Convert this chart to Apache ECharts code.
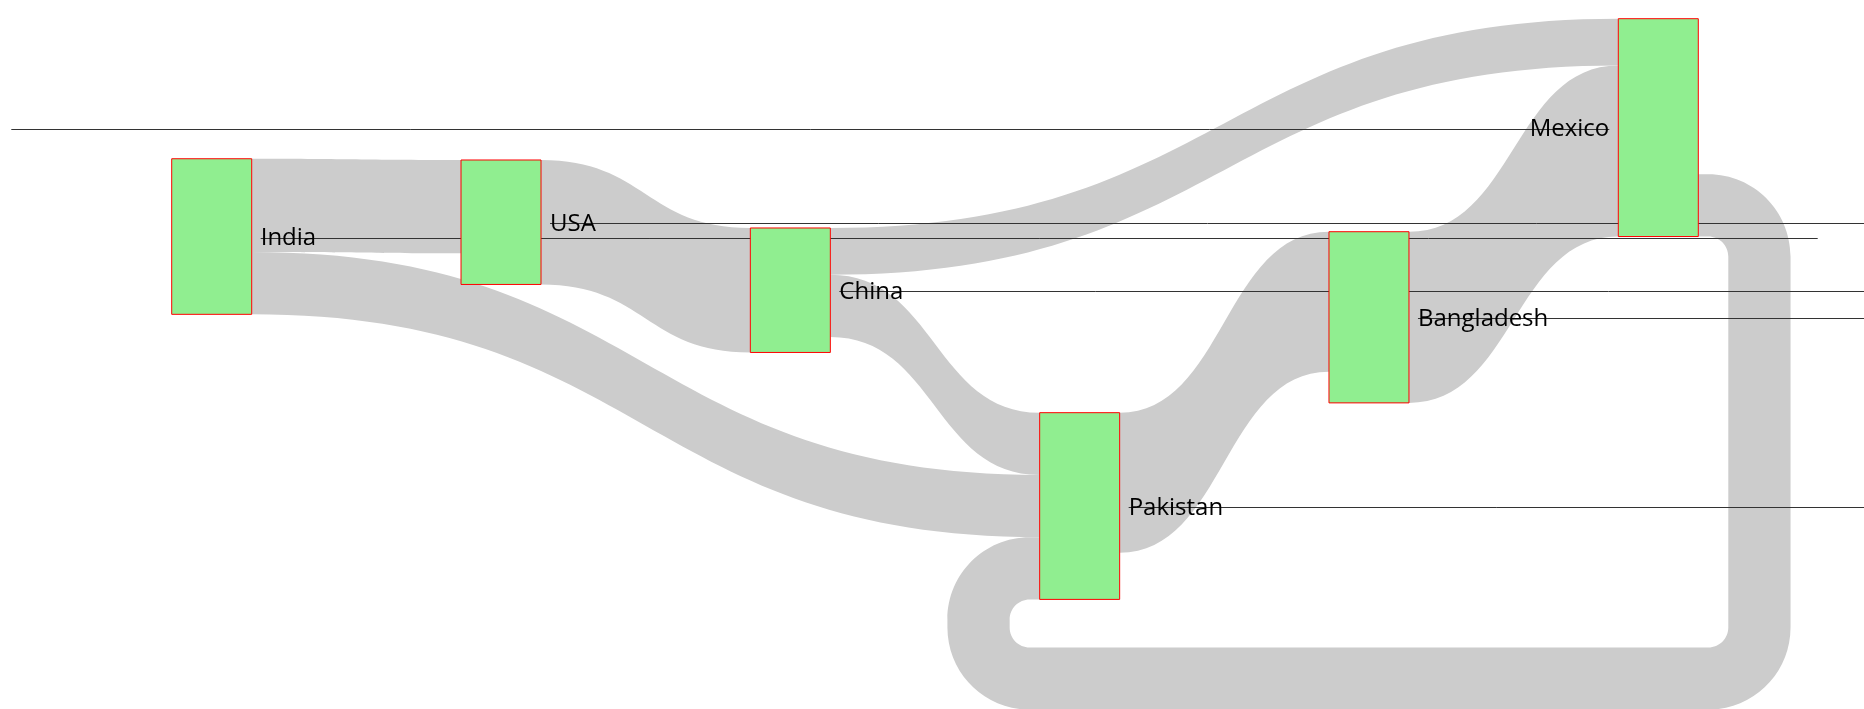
<!DOCTYPE html>
<html>
<head>
<meta charset="utf-8">
<style>
  html, body { margin: 0; padding: 0; background: #fff; }
  #main { width: 1864px; height: 709px; }
</style>
<script src="https://cdn.jsdelivr.net/npm/echarts@6/dist/echarts.min.js"></script>
</head>
<body>
<div id="main"></div>
<script>
// nodes: name, column and top offset (in value units)
var nodeNames = ['India', 'USA', 'China', 'Pakistan', 'Bangladesh', 'Mexico'];
var nodeColumn = [0, 1, 2, 3, 4, 5];
var nodeTop = [9.0, 9.08, 13.45, 25.32, 13.69, 0];

// links (order = stacking order at each node side)
var linkSource = ['India', 'USA', 'China', 'China', 'India', 'Pakistan', 'Bangladesh', 'Mexico'];
var linkTarget = ['USA', 'China', 'Mexico', 'Pakistan', 'Pakistan', 'Bangladesh', 'Mexico', 'Pakistan'];
var linkValue = [6, 8, 3, 4, 4, 9, 11, 4];

// styles
var NODE_W = 80;
var LABEL_GAP = 9;
var LABEL_DY = 2;
var LINE_DY = 1;
var LINE_LEN_RIGHT = 1557;
var LINE_LEN_LEFT = 1598;
var LOOP_STUB = 10;
var LOOP_RADIUS = 20;
var LOOP_GAP = 48;
var K = 0.5523;

var nodeIndex = {};
nodeNames.forEach(function (n, i) { nodeIndex[n] = i; });

var nodes = nodeNames.map(function (name, i) {
  return { name: name, col: nodeColumn[i], y0: nodeTop[i], inVal: 0, outVal: 0 };
});
var links = linkValue.map(function (v, i) {
  var s = nodeIndex[linkSource[i]], t = nodeIndex[linkTarget[i]];
  return { s: s, t: t, value: v, circular: nodeColumn[t] <= nodeColumn[s] };
});
links.forEach(function (l) {
  nodes[l.s].outVal += l.value;
  nodes[l.t].inVal += l.value;
});
nodes.forEach(function (n) {
  n.value = Math.max(n.inVal, n.outVal);
  n.y1 = n.y0 + n.value;
});
// stack link ends on every node; circular ones from the bottom
nodes.forEach(function (n, i) {
  var outTop = n.y0, inTop = n.y0, outBot = n.y1, inBot = n.y1;
  links.forEach(function (l) {
    if (l.s === i) {
      if (l.circular) { outBot -= l.value; l.sy0 = outBot; }
      else { l.sy0 = outTop; outTop += l.value; }
    }
    if (l.t === i) {
      if (l.circular) { inBot -= l.value; l.ty0 = inBot; }
      else { l.ty0 = inTop; inTop += l.value; }
    }
  });
});
var maxBottom = Math.max.apply(null, nodes.map(function (n) { return n.y1; }));

function p(x, y) { return x.toFixed(2) + ',' + y.toFixed(2); }
function arcHV(x0, y0, x1, y1) {
  return 'C' + p(x0 + K * (x1 - x0), y0) + ' ' + p(x1, y1 - K * (y1 - y0)) + ' ' + p(x1, y1);
}
function arcVH(x0, y0, x1, y1) {
  return 'C' + p(x0, y0 + K * (y1 - y0)) + ' ' + p(x1 - K * (x1 - x0), y1) + ' ' + p(x1, y1);
}

function renderLink(params, api) {
  var l = links[params.dataIndex];
  var xs = api.coord([nodes[l.s].col, 0])[0] + NODE_W;
  var xt = api.coord([nodes[l.t].col, 0])[0];
  var ys0 = api.coord([0, l.sy0])[1], ys1 = api.coord([0, l.sy0 + l.value])[1];
  var yt0 = api.coord([0, l.ty0])[1], yt1 = api.coord([0, l.ty0 + l.value])[1];
  var d;
  if (!l.circular) {
    var xm = (xs + xt) / 2;
    d = 'M' + p(xs, ys0) + 'C' + p(xm, ys0) + ' ' + p(xm, yt0) + ' ' + p(xt, yt0) +
      'L' + p(xt, yt1) + 'C' + p(xm, yt1) + ' ' + p(xm, ys1) + ' ' + p(xs, ys1) + 'Z';
  } else {
    var w = ys1 - ys0;
    var ri = LOOP_RADIUS, ro = LOOP_RADIUS + w;
    var ybIn = api.coord([0, maxBottom])[1] + LOOP_GAP, ybOut = ybIn + w;
    var sx = xs + LOOP_STUB, tx = xt - LOOP_STUB;
    var xRo = sx + ro, xRi = sx + ri, xLo = tx - ro, xLi = tx - ri;
    d = 'M' + p(xs, ys0) + 'L' + p(sx, ys0) +
      arcHV(sx, ys0, xRo, ys0 + ro) + 'L' + p(xRo, ybOut - ro) +
      arcVH(xRo, ybOut - ro, sx, ybOut) + 'L' + p(tx, ybOut) +
      arcHV(tx, ybOut, xLo, ybOut - ro) + 'L' + p(xLo, yt0 + ro) +
      arcVH(xLo, yt0 + ro, tx, yt0) + 'L' + p(xt, yt0) +
      'L' + p(xt, yt1) + 'L' + p(tx, yt1) +
      arcHV(tx, yt1, xLi, yt1 + ri) + 'L' + p(xLi, ybIn - ri) +
      arcVH(xLi, ybIn - ri, tx, ybIn) + 'L' + p(sx, ybIn) +
      arcHV(sx, ybIn, xRi, ybIn - ri) + 'L' + p(xRi, ys1 + ri) +
      arcVH(xRi, ys1 + ri, sx, ys1) + 'L' + p(xs, ys1) + 'Z';
  }
  return { type: 'path', shape: { pathData: d }, style: { fill: '#cccccc' } };
}

function labelPos(n, api) {
  var left = api.coord([n.col, 0])[0];
  var cy = (api.coord([0, n.y0])[1] + api.coord([0, n.y1])[1]) / 2;
  var last = n.col === Math.max.apply(null, nodeColumn);
  return {
    x: last ? left - LABEL_GAP : left + NODE_W + LABEL_GAP,
    y: cy,
    last: last
  };
}

function renderLabelLine(params, api) {
  var lp = labelPos(nodes[params.dataIndex], api);
  var y = Math.round(lp.y + LINE_DY) + 0.5;
  var x2 = lp.last ? lp.x - LINE_LEN_LEFT : lp.x + LINE_LEN_RIGHT;
  return {
    type: 'line',
    shape: { x1: lp.x, y1: y, x2: x2, y2: y },
    style: { stroke: '#333', lineWidth: 1 }
  };
}

function renderNode(params, api) {
  var n = nodes[params.dataIndex];
  var x = api.coord([n.col, 0])[0];
  var y0 = api.coord([0, n.y0])[1], y1 = api.coord([0, n.y1])[1];
  return {
    type: 'rect',
    shape: { x: x, y: y0, width: NODE_W, height: y1 - y0 },
    style: { fill: '#90ee90', stroke: '#ff0000', lineWidth: 1 }
  };
}

function renderLabel(params, api) {
  var n = nodes[params.dataIndex];
  var lp = labelPos(n, api);
  return {
    type: 'text',
    x: lp.x,
    y: lp.y + LABEL_DY,
    style: {
      text: n.name,
      fill: '#000',
      font: '24px "Open Sans", "Noto Sans", sans-serif',
      align: lp.last ? 'right' : 'left',
      verticalAlign: 'middle'
    }
  };
}

var chart = echarts.init(document.getElementById('main'));
var nodeData = nodes.map(function (n) { return [n.col, n.y0]; });
var linkData = links.map(function (l) { return [nodes[l.s].col, l.sy0]; });

chart.setOption({
  backgroundColor: '#fff',
  animation: false,
  grid: { left: 171.7, right: 245.7, top: 18.7, bottom: 5.66 },
  xAxis: { type: 'value', min: 0, max: 5, show: false },
  yAxis: { type: 'value', min: 0, max: 44, inverse: true, show: false },
  series: [
    { type: 'custom', z: 1, renderItem: renderLink, data: linkData, silent: true },
    { type: 'custom', z: 2, renderItem: renderLabelLine, data: nodeData, silent: true },
    { type: 'custom', z: 3, renderItem: renderNode, data: nodeData, silent: true },
    { type: 'custom', z: 4, renderItem: renderLabel, data: nodeData, silent: true }
  ]
});
</script>
</body>
</html>
